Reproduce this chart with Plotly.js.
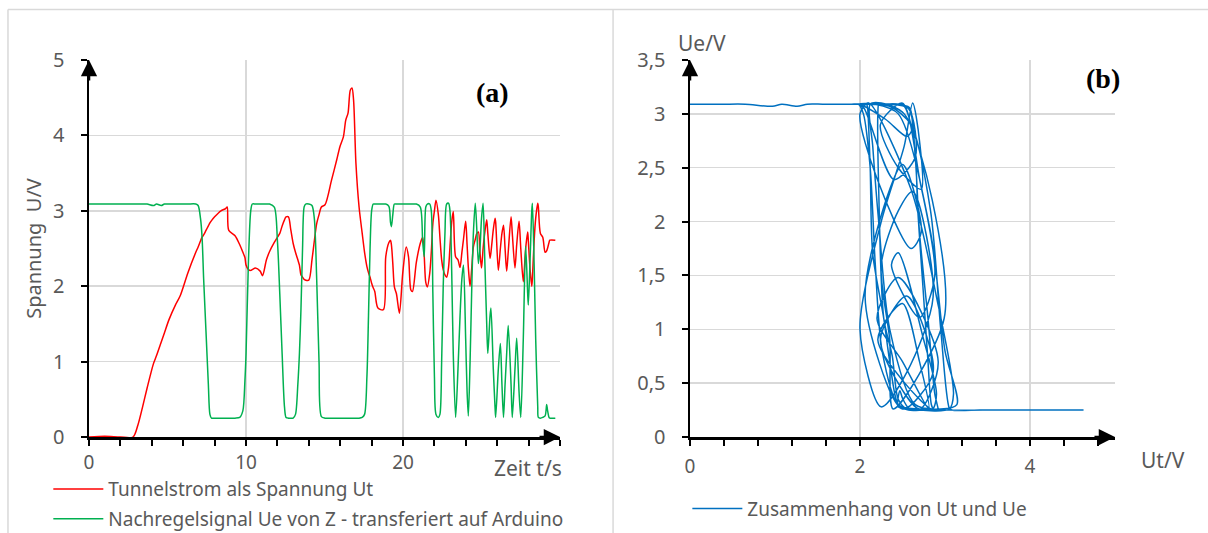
<!DOCTYPE html>
<html><head><meta charset="utf-8">
<script src="https://cdn.plot.ly/plotly-3.0.1.min.js"></script>
<style>html,body{margin:0;padding:0;background:#fff;}#chart{width:1208px;height:533px;}</style>
</head><body><div id="chart"></div>
<script>
// time in s
const time = [0,1,2,2.8,3.1,3.4,3.7,4.1,4.3,4.6,4.8,5.1,5.5,5.8,6.3,6.8,6.95,7.1,7.2,7.3,7.45,7.6,7.7,7.8,8.0,8.4,8.7,8.8,8.9,9.3,9.6,9.8,9.93,10.0,10.15,10.3,10.4,10.6,10.9,11.05,11.3,11.5,11.8,12.0,12.15,12.3,12.45,12.55,12.7,12.85,13.0,13.15,13.3,13.4,13.5,13.6,13.7,13.8,14.0,14.2,14.35,14.5,14.65,14.8,15.03,15.45,15.77,15.98,16.2,16.35,16.5,16.64,16.75,16.85,17.0,17.2,17.4,17.55,17.7,17.8,17.9,18.0,18.1,18.2,18.4,18.75,18.9,19.1,19.2,19.26,19.35,19.45,19.58,19.77,19.98,20.2,20.35,20.5,20.6,20.85,21.1,21.25,21.35,21.45,21.55,21.7,21.8,21.9,22.0,22.1,22.25,22.35,22.46,22.56,22.67,22.78,22.9,22.99,23.1,23.2,23.35,23.5,23.63,23.75,23.85,23.99,24.08,24.16,24.27,24.38,24.48,24.6,24.7,24.8,24.9,25.0,25.1,25.2,25.33,25.4,25.54,25.6,25.75,25.86,25.9,26.07,26.2,26.3,26.4,26.5,26.6,26.7,26.88,26.96,27.13,27.24,27.39,27.5,27.66,27.81,27.94,27.98,28.1,28.2,28.24,28.35,28.45,28.58,28.62,28.75,28.9,29.05,29.15,29.2,29.3,29.35,29.7];
// Tunnelstrom als Spannung Ut (V)
const ut = [0,0.01,0,0,0.15,0.39,0.65,0.97,1.08,1.26,1.38,1.56,1.75,1.87,2.18,2.45,2.52,2.6,2.65,2.68,2.74,2.8,2.84,2.87,2.92,3.0,3.03,3.05,2.74,2.67,2.55,2.45,2.38,2.28,2.22,2.21,2.22,2.24,2.2,2.14,2.35,2.46,2.58,2.65,2.7,2.8,2.88,2.92,2.92,2.75,2.57,2.45,2.35,2.28,2.15,2.12,2.09,2.08,2.08,2.35,2.6,2.83,2.95,3.05,3.08,3.41,3.67,3.85,3.98,4.2,4.3,4.6,4.63,4.47,3.63,3.05,2.7,2.45,2.26,2.18,2.12,2.04,1.98,1.93,1.71,1.69,2.39,2.58,2.61,2.55,2.3,1.99,1.9,1.64,2.17,2.52,2.39,1.95,1.93,2.32,2.57,2.65,2.4,2.05,1.99,2.17,2.45,2.83,3.0,3.14,2.95,2.65,2.35,2.22,2.15,2.12,2.25,2.52,2.85,2.99,2.39,2.35,2.25,2.45,2.62,2.86,2.55,2.25,2.0,2.25,2.52,2.62,2.7,2.72,2.45,2.24,2.5,2.7,2.88,2.7,2.37,2.45,2.75,2.9,2.85,2.21,2.5,2.7,2.81,2.5,2.2,2.45,2.92,2.7,2.24,2.55,2.86,2.5,2.06,2.5,2.72,2.6,2.2,2.0,2.1,2.6,2.9,3.1,3.05,2.7,2.65,2.45,2.47,2.5,2.58,2.61,2.61];
// Nachregelsignal Ue (V)
const ue = [3.09,3.09,3.09,3.09,3.09,3.09,3.09,3.07,3.09,3.07,3.09,3.09,3.09,3.09,3.09,3.09,3.07,2.9,2.65,2.1,1.4,0.7,0.3,0.25,0.25,0.25,0.25,0.25,0.25,0.25,0.26,0.35,0.75,1.1,2.3,3.0,3.09,3.09,3.09,3.09,3.09,3.09,3.05,2.6,1.9,1.1,0.4,0.26,0.25,0.25,0.25,0.3,0.7,1.1,1.7,2.5,3.05,3.09,3.09,3.07,2.9,2.1,1.0,0.27,0.25,0.25,0.25,0.25,0.25,0.25,0.25,0.25,0.25,0.25,0.25,0.25,0.26,0.3,0.8,1.6,2.5,3.0,3.09,3.09,3.09,3.09,3.09,3.06,2.85,2.79,2.95,3.09,3.09,3.09,3.09,3.09,3.09,3.09,3.09,3.09,3.05,2.6,2.39,3.05,3.09,3.09,3.0,1.9,0.8,0.3,0.26,0.3,1.0,2.0,2.7,3.09,3.1,3.0,2.2,1.1,0.26,0.9,1.6,2.1,2.28,1.3,0.6,0.28,1.0,2.0,2.7,3.1,2.75,2.3,2.5,2.9,3.1,2.4,1.5,1.11,1.6,1.71,0.9,0.4,0.26,0.9,1.24,0.7,0.26,0.7,1.1,1.48,0.7,0.26,0.9,1.31,0.6,0.26,1.3,2.53,1.9,1.75,2.4,3.0,3.1,2.3,1.3,0.4,0.26,0.25,0.26,0.28,0.43,0.36,0.26,0.25,0.25];

const nameUt = 'Tunnelstrom als Spannung Ut';
const nameUe = 'Nachregelsignal Ue von Z - transferiert auf Arduino';
const nameXY = 'Zusammenhang von Ut und Ue';

const FONT = 'Noto Sans, Open Sans, sans-serif';
const GRAY = '#595959';
const GRID = '#d9d9d9';

const traces = [
  {x: time, y: ut, type: 'scatter', mode: 'lines', name: nameUt, xaxis: 'x', yaxis: 'y', legend: 'legend', legendgroup: 'ut',
   line: {color: '#ff0000', width: 1.5, shape: 'spline', smoothing: 0.8}},
  {x: time, y: ue, type: 'scatter', mode: 'lines', name: nameUe, xaxis: 'x', yaxis: 'y', legend: 'legend', legendgroup: 'ue',
   line: {color: '#00b050', width: 1.5, shape: 'spline', smoothing: 0.8}},
  {x: ut, y: ue, type: 'scatter', mode: 'lines', name: nameXY, xaxis: 'x2', yaxis: 'y2', legend: 'legend2',
   line: {color: '#0070c0', width: 1.5, shape: 'spline', smoothing: 0.8}}
];

function range(a, b, s) { const r = []; for (let v = a; v <= b + 1e-9; v += s) r.push(+v.toFixed(4)); return r; }

const axBase = {
  showgrid: true, gridcolor: GRID, gridwidth: 1.5, zeroline: false,
  showline: true, linecolor: '#000', linewidth: 2.5,
  ticks: 'outside', ticklen: 6, tickwidth: 2, tickcolor: '#000',
  tickfont: {family: FONT, size: 20, color: GRAY}, fixedrange: true, automargin: false
};
const xTickFont = {family: FONT, size: 19, color: GRAY};

function label(text, x, y, size, fam, color) {
  return {text: text, xref: 'paper', yref: 'paper', x: x, y: y, xanchor: 'center', yanchor: 'middle',
    showarrow: false, font: {family: fam, size: size, color: color}};
}
function arrow(xr, yr, x, y, ax, ay) {
  return {text: '', xref: xr, yref: yr, x: x, y: y, ax: ax, ay: ay, showarrow: true,
    arrowhead: 2, arrowsize: 1.3, arrowwidth: 2.5, arrowcolor: '#000'};
}

const layout = {
  width: 1208, height: 533,
  margin: {l: 0, r: 0, t: 0, b: 0, autoexpand: false},
  paper_bgcolor: '#fff', plot_bgcolor: '#fff',
  separators: ',.',
  font: {family: FONT, color: GRAY},
  xaxis: Object.assign({}, axBase, {
    domain: [0.0737, 0.4636], range: [0, 30], anchor: 'y', tickfont: xTickFont,
    tickmode: 'array', tickvals: [0, 10, 20, 30], ticktext: ['0', '10', '20', ''],
    ticklabelstandoff: 1,
    minor: {tickmode: 'array', tickvals: range(2, 28, 2), ticks: 'outside', ticklen: 6, tickwidth: 2, tickcolor: '#000', showgrid: false}
  }),
  yaxis: Object.assign({}, axBase, {
    domain: [0.1801, 0.8874], range: [0, 5], dtick: 1, anchor: 'x',
    ticklabelstandoff: 12,
    title: {text: 'Spannung  U/V', font: {family: FONT, size: 20, color: GRAY}, standoff: 6}
  }),
  xaxis2: Object.assign({}, axBase, {
    domain: [0.5712, 0.9230], range: [0, 5], dtick: 2, anchor: 'y2', tickfont: xTickFont,
    ticklabelstandoff: 5,
    minor: {dtick: 0.4, ticks: 'outside', ticklen: 6, tickwidth: 2, tickcolor: '#000', showgrid: false}
  }),
  yaxis2: Object.assign({}, axBase, {
    domain: [0.1801, 0.8874], range: [0, 3.5], dtick: 0.5, anchor: 'x2',
    ticklabelstandoff: 12
  }),
  legend: {x: 0.040, y: -0.0098, xanchor: 'left', yanchor: 'bottom', bgcolor: 'rgba(0,0,0,0)',
    font: {family: FONT, size: 19, color: GRAY}, itemwidth: 50, tracegroupgap: 2, traceorder: 'grouped'},
  legend2: {x: 0.569, y: 0.01, xanchor: 'left', yanchor: 'bottom', bgcolor: 'rgba(0,0,0,0)',
    font: {family: FONT, size: 19, color: GRAY}, itemwidth: 50},
  annotations: [
    label('<b>(a)</b>', 0.408, 0.827, 28, 'Liberation Serif, serif', '#000'),
    label('<b>(b)</b>', 0.913, 0.852, 28, 'Liberation Serif, serif', '#000'),
    label('Zeit t/s', 0.437, 0.122, 21, FONT, GRAY),
    label('Ue/V', 0.581, 0.919, 21, FONT, GRAY),
    label('Ut/V', 0.963, 0.137, 21, FONT, GRAY),
    arrow('x', 'y', 0, 5, 0, 22),
    arrow('x', 'y', 30, 0, -22, 0),
    arrow('x2', 'y2', 0, 3.5, 0, 22),
    arrow('x2', 'y2', 5, 0, -22, 0)
  ],
  shapes: [
    {type: 'line', xref: 'paper', yref: 'paper', x0: 0.0066, x1: 1, y0: 0.982, y1: 0.982, line: {color: GRID, width: 1.5}},
    {type: 'line', xref: 'paper', yref: 'paper', x0: 0.0066, x1: 0.0066, y0: 0, y1: 0.982, line: {color: GRID, width: 1.5}},
    {type: 'line', xref: 'paper', yref: 'paper', x0: 0.5075, x1: 0.5075, y0: 0, y1: 0.982, line: {color: GRID, width: 1.5}}
  ]
};

Plotly.newPlot('chart', traces, layout, {displayModeBar: false, staticPlot: true});
</script>
</body></html>
